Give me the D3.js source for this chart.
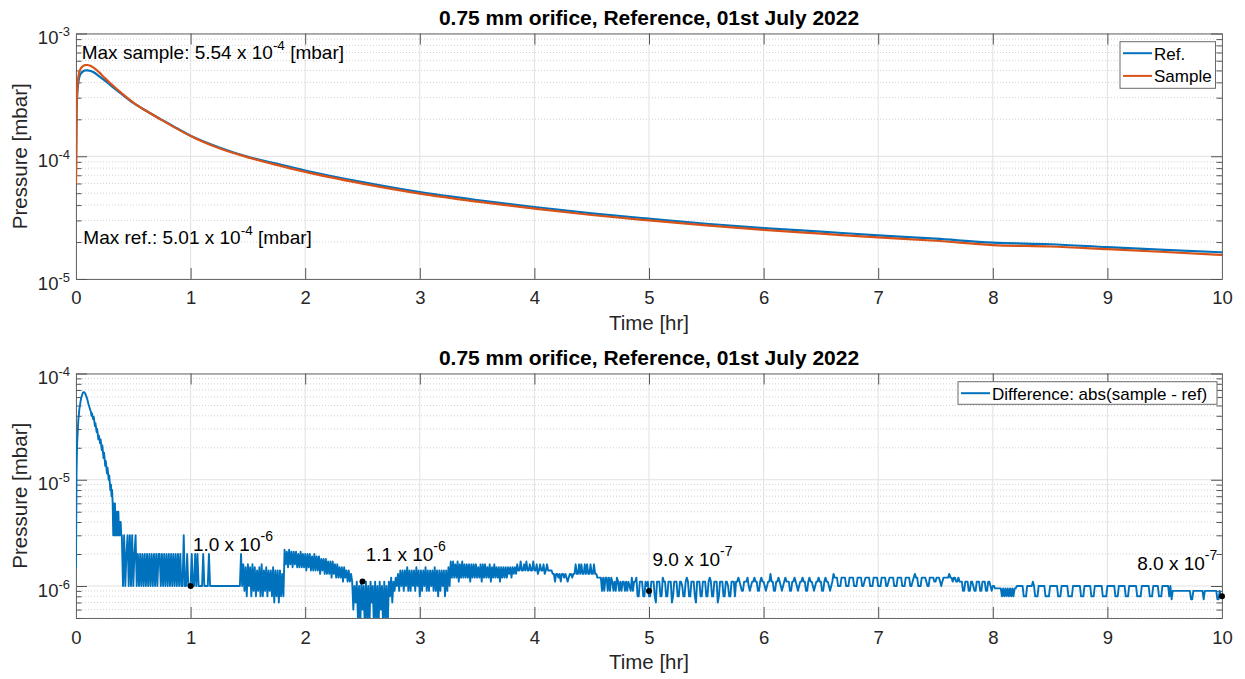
<!DOCTYPE html>
<html>
<head>
<meta charset="utf-8">
<script src="https://cdn.jsdelivr.net/npm/d3@7"></script>
<style>
  body { margin: 0; background: #fff; }
  svg { font-family: "Liberation Sans", Arial, sans-serif; }
</style>
</head>
<body>
<div id="vis"></div>
<script>
// ---------- data ----------
const titleText = '0.75 mm orifice, Reference, 01st July 2022'
const xTicks = [0, 1, 2, 3, 4, 5, 6, 7, 8, 9, 10]

// top panel: chamber pressure [mbar] vs time [hr]
const presTime = [0, 0.005, 0.01, 0.02, 0.03, 0.045, 0.06, 0.08, 0.1, 0.12, 0.15, 0.2, 0.25, 0.3, 0.4, 0.5,
  0.6, 0.75, 0.9, 1.0, 1.25, 1.5, 1.75, 2.0, 2.5, 3.0, 3.5, 4.0, 4.5, 5.0, 5.5, 6.0, 6.5, 7.0, 7.5, 8.0,
  8.5, 9.0, 9.5, 10.0]
const presRef = [7.0e-5, 2.3e-4, 3.1e-4, 4.0e-4, 4.45e-4, 4.75e-4, 4.9e-4, 5.0e-4, 5.01e-4, 4.97e-4, 4.85e-4,
  4.5e-4, 4.15e-4, 3.8e-4, 3.2e-4, 2.72e-4, 2.38e-4, 1.98e-4, 1.65e-4, 1.47e-4, 1.18e-4, 9.9e-5, 8.7e-5,
  7.65e-5, 6.15e-5, 5.1e-5, 4.4e-5, 3.86e-5, 3.43e-5, 3.1e-5, 2.82e-5, 2.6e-5, 2.43e-5, 2.27e-5, 2.13e-5,
  1.98e-5, 1.92e-5, 1.82e-5, 1.73e-5, 1.65e-5]
const presSample = [6.0e-5, 2.6e-4, 3.4e-4, 4.4e-4, 4.9e-4, 5.25e-4, 5.42e-4, 5.52e-4, 5.54e-4, 5.48e-4, 5.3e-4,
  4.85e-4, 4.35e-4, 3.93e-4, 3.25e-4, 2.74e-4, 2.38e-4, 1.97e-4, 1.64e-4, 1.46e-4, 1.16e-4, 9.8e-5, 8.5e-5,
  7.45e-5, 5.98e-5, 4.96e-5, 4.27e-5, 3.74e-5, 3.32e-5, 3.0e-5, 2.73e-5, 2.51e-5, 2.34e-5, 2.18e-5, 2.05e-5,
  1.89e-5, 1.84e-5, 1.75e-5, 1.66e-5, 1.57e-5]

// bottom panel: abs(sample - ref), first 0.4 hr as [time, mbar]
const diffEarly = [[0, 1.5e-6], [0.002, 4e-6], [0.005, 1.2e-5], [0.01, 2.2e-5], [0.02, 3.6e-5], [0.03, 4.7e-5],
  [0.045, 5.9e-5], [0.06, 6.6e-5], [0.07, 6.7e-5], [0.08, 6.5e-5], [0.095, 5.9e-5], [0.11, 5.1e-5],
  [0.125, 4.5e-5], [0.13, 4.4e-5], [0.135, 4.0e-5], [0.14, 4.2e-5], [0.15, 3.7e-5], [0.155, 3.9e-5],
  [0.165, 3.2e-5], [0.17, 3.4e-5], [0.18, 2.8e-5], [0.185, 3.0e-5], [0.195, 2.4e-5], [0.2, 2.6e-5],
  [0.21, 2.2e-5], [0.215, 2.4e-5], [0.225, 1.9e-5], [0.23, 2.1e-5], [0.24, 1.6e-5], [0.245, 1.8e-5],
  [0.255, 1.35e-5], [0.26, 1.5e-5], [0.27, 1.15e-5], [0.275, 1.3e-5], [0.285, 1.0e-5], [0.29, 1.1e-5],
  [0.30, 8e-6], [0.305, 9e-6], [0.31, 7e-6], [0.315, 8e-6], [0.32, 6e-6], [0.325, 3e-6], [0.33, 6e-6],
  [0.335, 3e-6], [0.34, 6e-6], [0.345, 3e-6], [0.35, 5e-6], [0.355, 3e-6], [0.36, 5e-6], [0.365, 3e-6],
  [0.37, 5e-6], [0.375, 3e-6], [0.38, 4e-6], [0.385, 3e-6], [0.39, 4e-6], [0.395, 3e-6]]

// the rest, one reading every 0.01 hr, values in units of 1e-7 mbar
const diffStep = 0.01
const diffUnit = 1e-7
const diffSegments = [
  {t0: 0.40, v: [30,10,30,10,20,30,10,30,10,30,10,20,30,10]},
  {t0: 0.54, v: [20,10,20,10,20,10,20,10,20,10,20,10,20,10,20,10,20,10,20,20,10,20,10,20,10,20,10,20,10,20,
    10,20,10,20,10,20,10,20,10]},
  {t0: 0.93, v: [10,30,10]},
  {t0: 0.96, v: [10,20,10,10,10,20,10,10,20,10,20,10,10,10,10,20,10,10,10,10,20,10]},
  {t0: 1.18, v: [10,10,10,10,10,10,10,10,10,10,10,10,10,10,10,10,10,10,10,10,10,10,10,10,10,10]},
  {t0: 1.44, v: [20,10,16,9,15,8,16,10,15,8,16,9,15,8,14,9,15,8,16,8,14,9,15,8,14,9,14,8,15,7,14,8,14,7,14,8,
    13,8]},
  {t0: 1.82, v: [22,16,21,15,22,16,21,15,21,16,21,15,20,15,21,15,20,15,20,14,20,15,20,14,19,14,20,14,19,14,
    19,13,18,14,18,13,18,13,17,13,17,12,17,13,16,12,16,12,15,12,15,11,15,12,14,11,14,11,13]},
  {t0: 2.41, v: [11,6,10,7,11,5,10,4,11,6,10,4,11,5,10,4,11,7,10,4,11,5,10,4,11,6,10,4,11,5,10,4,11,8,12,7,
    11,9,12,10,13,9]},
  {t0: 2.83, v: [14,10,14,9,14,10,15,9,14,9,14,10,14,9,15,10,14,8,14,9,14,10,15,9,14,9,14,10,14,9,15,9,14,8,
    14,9,14,10,14,8,14,9,15,10]},
  {t0: 3.27, v: [17,12,17,12,16,12,17,11,16,12,17,12,16,12,16,12,16,11,16,12,16,12,16,12,15,12,16,11,16,12,
    16,12,15,12,16,11,15,12,16,12,15,12,15,11,15,12,15,12,15,12,15,13,15,12,15,13,15,13,16]},
  {t0: 3.86, v: [14,14,17,14,14,16,14,17,14,14,16,14,14,17,14,14,16,13,14,16,14,14,16,13,14,16,14,14,14]},
  {t0: 4.15, v: [14,13,13,11,13,13,12,13,11,13,13,12,13,12,11,12,13,13,12,13]},
  {t0: 4.35, v: [13,16,13,13,16,13,16,13,13,16,13,16,13,13,16,13,13,16,13,13,12,12]},
  {t0: 4.57, v: [12,12,9,12,9,12,12,9,12,9,12,11,9,11,9,12,11,9,11,9,11,11,9,11,9,11,10,9,12,9]},
  {t0: 4.87, v: [11,11,12,8,8,11,11,11,8,8,11,10,11,8,8,11,11,11,8,7,11,11,11,8,8,12,11,11,8,8,11,11,11,7,8,
    11,11,11,8,8,11,11,10,8,8,11,12,11,8,8,11,11,11,8,7,11,11,11,8,8,11,11,11,8,8,11,12,11,8,8,11,11,11,7,8,
    11,11,11,8,8,11,11,10,8,8,11,11,11,8]},
  {t0: 5.76, v: [11,11,12,11,10,9,9,11,11,11,12,10,9,10,11,11,12,11,11,9,9,11,12,11,11,10,9,10,11,11,13,11,11,
    9,9,11,11,12,11,10,9,10,11,12,11,11,11,9,9,11,11,12,11,10,9,10,11,11,12,11,11,9,9,11,12,11,11,10,9,10,11,
    11,12,11,11,9,9,11,12,11,11,10,9,10,11]},
  {t0: 6.61, v: [13,12,12,12,10,10,10,12,12,12,12,10,10,10,12,12,12,12,10,10,10,12,12,12,12,10,10,11,12,12,
    12,12,10,10,10,12,12,12,12,10,10,10,12,12,12,12,10,10,11,12,12,12,12,10,10,10,12,12,12,12,10,10,10,12,12,
    12,12,10,10,11,12,13,12,12,10,10,10,12,12,12,12,11,10,10,12,12,12,12,11,11,12,12,12,11,10,11,12,12,12,12,
    12,13,12,12,11,12,12,11,11,12]},
  {t0: 7.71, v: [11,11,11,9,9,11,11,11,9,9,11,11,10,9,9,11,11,11,9,9,11,11,11,9,9,11,11,10,9,10]},
  {t0: 8.01, v: [10,9.5,9.5,9.5,9.5,9.5,9.5]},
  {t0: 8.08, v: [8,9.5,8,9.5,8,9.5,8,9.5,8,9.5,8,9.5,9.5]},
  {t0: 8.21, v: [10,10,10,10,10,10,8,8,8,10,10,10,10,10,11,10,8,8,8,10,10,10,10,10,10,8,8,8,8,10,10,10,10,10,
    10,10,8,8,8,10,10,10,10,10,10,8,8,8,8,10,10,10,10,10,10,10,8,8,8,10,10,10,10,10,10,8,8,8,10,10,10,10,10,
    10,10,8,8,8,8,10,10,10,10,10,10,10,8,8,8,10,10,10,10,10,10,8,8,8,10,10,10,10,10,10,10,8,8,8,8,10,10,10,
    10,10,10,10,8,8,8,10,10,10,10,10,8,8,8,10,10,10,10,10,10,8,10]},
  {t0: 9.56, v: [7.5,9,9,9,9,9,9,9,9,9,9,9,9,9,9,9,9,7.5,7.5,9,9,9,9,9,9,9,9,9,7.5,9,9,9,9,9,9,9,9,9,9,9,7.5,
    7.5,9,8,8]}
]

// marked readings and their labels
const markPoints = [[1, 1.0e-6], [2.5, 1.1e-6], [5, 9.0e-7], [10, 8.0e-7]]
const markLabels = [
  {t: 1.02, p: 2.15e-6, pre: '1.0 x 10', exp: '-6'},
  {t: 2.528, p: 1.71e-6, pre: '1.1 x 10', exp: '-6'},
  {t: 5.03, p: 1.53e-6, pre: '9.0 x 10', exp: '-7'},
  {t: 9.26, p: 1.43e-6, pre: '8.0 x 10', exp: '-7'}
]
const maxNotes = [
  {t: 0.05, p: 6.2e-4, pre: 'Max sample: 5.54 x 10', exp: '-4', post: ' [mbar]'},
  {t: 0.064, p: 1.92e-5, pre: 'Max ref.: 5.01 x 10', exp: '-4', post: ' [mbar]'}
]

const blue = '#0072BD', orange = '#D95319', ink = '#262626'

// ---------- layout ----------
const W = 1245, H = 679
const svg = d3.select('#vis').append('svg').attr('width', W).attr('height', H)

const boxTop = {left: 76, right: 1222, top: 33.5, bottom: 279}
const boxBot = {left: 76, right: 1222, top: 373.5, bottom: 618}

function isDecade(v) {
  return Math.abs(Math.log10(v) - Math.round(Math.log10(v))) < 1e-9
}

function addSup(text, pre, exp, post, supSize, raise) {
  text.append('tspan').text(pre)
  text.append('tspan').attr('dy', -raise).attr('font-size', supSize).text(exp)
  if (post) text.append('tspan').attr('dy', raise).text(post)
}

function drawPanel(box, yDomain, id, labelGap, xLabelY) {
  const x = d3.scaleLinear().domain([0, 10]).range([box.left, box.right])
  const y = d3.scaleLog().domain(yDomain).range([box.bottom, box.top])
  const g = svg.append('g')

  const yt = y.ticks()
  const major = yt.filter(isDecade)
  const minor = yt.filter(v => !isDecade(v))

  // grid
  g.append('g').selectAll('line').data(minor).join('line')
    .attr('x1', box.left).attr('x2', box.right)
    .attr('y1', d => y(d)).attr('y2', d => y(d))
    .attr('stroke', '#d2d2d2').attr('stroke-dasharray', '1,2')
  g.append('g').selectAll('line').data(major).join('line')
    .attr('x1', box.left).attr('x2', box.right)
    .attr('y1', d => y(d)).attr('y2', d => y(d))
    .attr('stroke', '#e1e1e1')
  g.append('g').selectAll('line').data(xTicks).join('line')
    .attr('x1', d => x(d)).attr('x2', d => x(d))
    .attr('y1', box.top).attr('y2', box.bottom)
    .attr('stroke', '#e1e1e1')

  // clip for the traces
  svg.append('clipPath').attr('id', id).append('rect')
    .attr('x', box.left).attr('y', box.top)
    .attr('width', box.right - box.left).attr('height', box.bottom - box.top)

  const axes = svg.append('g').attr('class', 'axes')

  const xAxis = axes.append('g').attr('transform', `translate(0,${box.bottom})`)
    .call(d3.axisBottom(x).tickValues(xTicks).tickSize(-11).tickSizeOuter(0).tickPadding(labelGap))
  xAxis.selectAll('text').attr('font-size', 18.5)
  axes.append('g').attr('transform', `translate(0,${box.top})`)
    .call(d3.axisTop(x).tickValues(xTicks).tickSize(-11).tickSizeOuter(0).tickFormat(''))

  const yAxis = axes.append('g').attr('transform', `translate(${box.left},0)`)
    .call(d3.axisLeft(y).tickValues(major).tickSize(-11).tickSizeOuter(0).tickPadding(6).tickFormat(() => ''))
  yAxis.selectAll('.tick text')
    .attr('font-size', 18.5).attr('dy', '0.55em')
    .each(function(d) {
      addSup(d3.select(this), '10', String(Math.round(Math.log10(d))), null, 13, 8)
    })
  axes.append('g').attr('transform', `translate(${box.left},0)`)
    .call(d3.axisLeft(y).tickValues(minor).tickSize(-5.5).tickSizeOuter(0).tickFormat(''))
  axes.append('g').attr('transform', `translate(${box.right},0)`)
    .call(d3.axisRight(y).tickValues(major).tickSize(-11).tickSizeOuter(0).tickFormat(''))
  axes.append('g').attr('transform', `translate(${box.right},0)`)
    .call(d3.axisRight(y).tickValues(minor).tickSize(-5.5).tickSizeOuter(0).tickFormat(''))

  axes.selectAll('.domain').attr('stroke', '#6a6a6a')
  axes.selectAll('.tick line').attr('stroke', '#555')
  axes.selectAll('text').attr('fill', ink).attr('font-family', '"Liberation Sans", Arial, sans-serif')

  // title and axis labels
  svg.append('text')
    .attr('x', (box.left + box.right) / 2).attr('y', box.top - 9)
    .attr('text-anchor', 'middle').attr('font-weight', 'bold').attr('font-size', 21)
    .attr('fill', '#000').text(titleText)
  svg.append('text')
    .attr('x', (box.left + box.right) / 2).attr('y', xLabelY)
    .attr('text-anchor', 'middle').attr('font-size', 20.5).attr('fill', ink)
    .text('Time [hr]')
  svg.append('text')
    .attr('transform', `translate(27,${(box.top + box.bottom) / 2}) rotate(-90)`)
    .attr('text-anchor', 'middle').attr('font-size', 20.5).attr('fill', ink)
    .text('Pressure [mbar]')

  return {x, y}
}

function drawLegend(items, box) {
  const lg = svg.append('g')
  lg.append('rect')
    .attr('x', box.x).attr('y', box.y).attr('width', box.w).attr('height', box.h)
    .attr('fill', '#fff').attr('stroke', '#6a6a6a')
  items.forEach((it, i) => {
    const cy = box.y + 11.5 + i * 22.7
    lg.append('line')
      .attr('x1', box.x + 3).attr('x2', box.x + 32)
      .attr('y1', cy).attr('y2', cy)
      .attr('stroke', it.color).attr('stroke-width', 2)
    lg.append('text')
      .attr('x', box.x + 34).attr('y', cy + 6.5)
      .attr('font-size', 17).attr('fill', '#000')
      .text(it.name)
  })
}

// ---------- top panel ----------
const panelA = drawPanel(boxTop, [1e-5, 1e-3], 'clipTop', 12, 330)
const presLine = d3.line()
  .x((d, i) => panelA.x(presTime[i]))
  .y(d => panelA.y(d))
  .curve(d3.curveMonotoneX)

svg.append('path').datum(presRef)
  .attr('clip-path', 'url(#clipTop)')
  .attr('d', presLine).attr('fill', 'none')
  .attr('stroke', blue).attr('stroke-width', 2.2)
svg.append('path').datum(presSample)
  .attr('clip-path', 'url(#clipTop)')
  .attr('d', presLine).attr('fill', 'none')
  .attr('stroke', orange).attr('stroke-width', 2.2)

maxNotes.forEach(n => {
  const t = svg.append('text')
    .attr('x', panelA.x(n.t)).attr('y', panelA.y(n.p))
    .attr('font-size', 19).attr('fill', '#000')
  addSup(t, n.pre, n.exp, n.post, 13.5, 9)
})

drawLegend([{name: 'Ref.', color: blue}, {name: 'Sample', color: orange}],
  {x: 1120, y: 41.7, w: 95.5, h: 46.6})

// ---------- bottom panel ----------
const panelB = drawPanel(boxBot, [5e-7, 1e-4], 'clipBot', 13, 669)

const diffSeries = diffEarly.concat(
  diffSegments.flatMap(s => s.v.map((v, i) => [s.t0 + i * diffStep, v * diffUnit]))
)

svg.append('path').datum(diffSeries)
  .attr('clip-path', 'url(#clipBot)')
  .attr('d', d3.line().x(d => panelB.x(d[0])).y(d => panelB.y(d[1])))
  .attr('fill', 'none').attr('stroke', blue).attr('stroke-width', 1.9)
  .attr('stroke-linejoin', 'round')

svg.append('g').selectAll('circle').data(markPoints).join('circle')
  .attr('cx', d => panelB.x(d[0])).attr('cy', d => panelB.y(d[1]))
  .attr('r', 3).attr('fill', '#000')

markLabels.forEach(n => {
  const t = svg.append('text')
    .attr('x', panelB.x(n.t)).attr('y', panelB.y(n.p))
    .attr('font-size', 19).attr('fill', '#000')
  addSup(t, n.pre, n.exp, null, 14, 10)
})

drawLegend([{name: 'Difference: abs(sample - ref)', color: blue}],
  {x: 958, y: 381.7, w: 259, h: 22.6})
</script>
</body>
</html>
